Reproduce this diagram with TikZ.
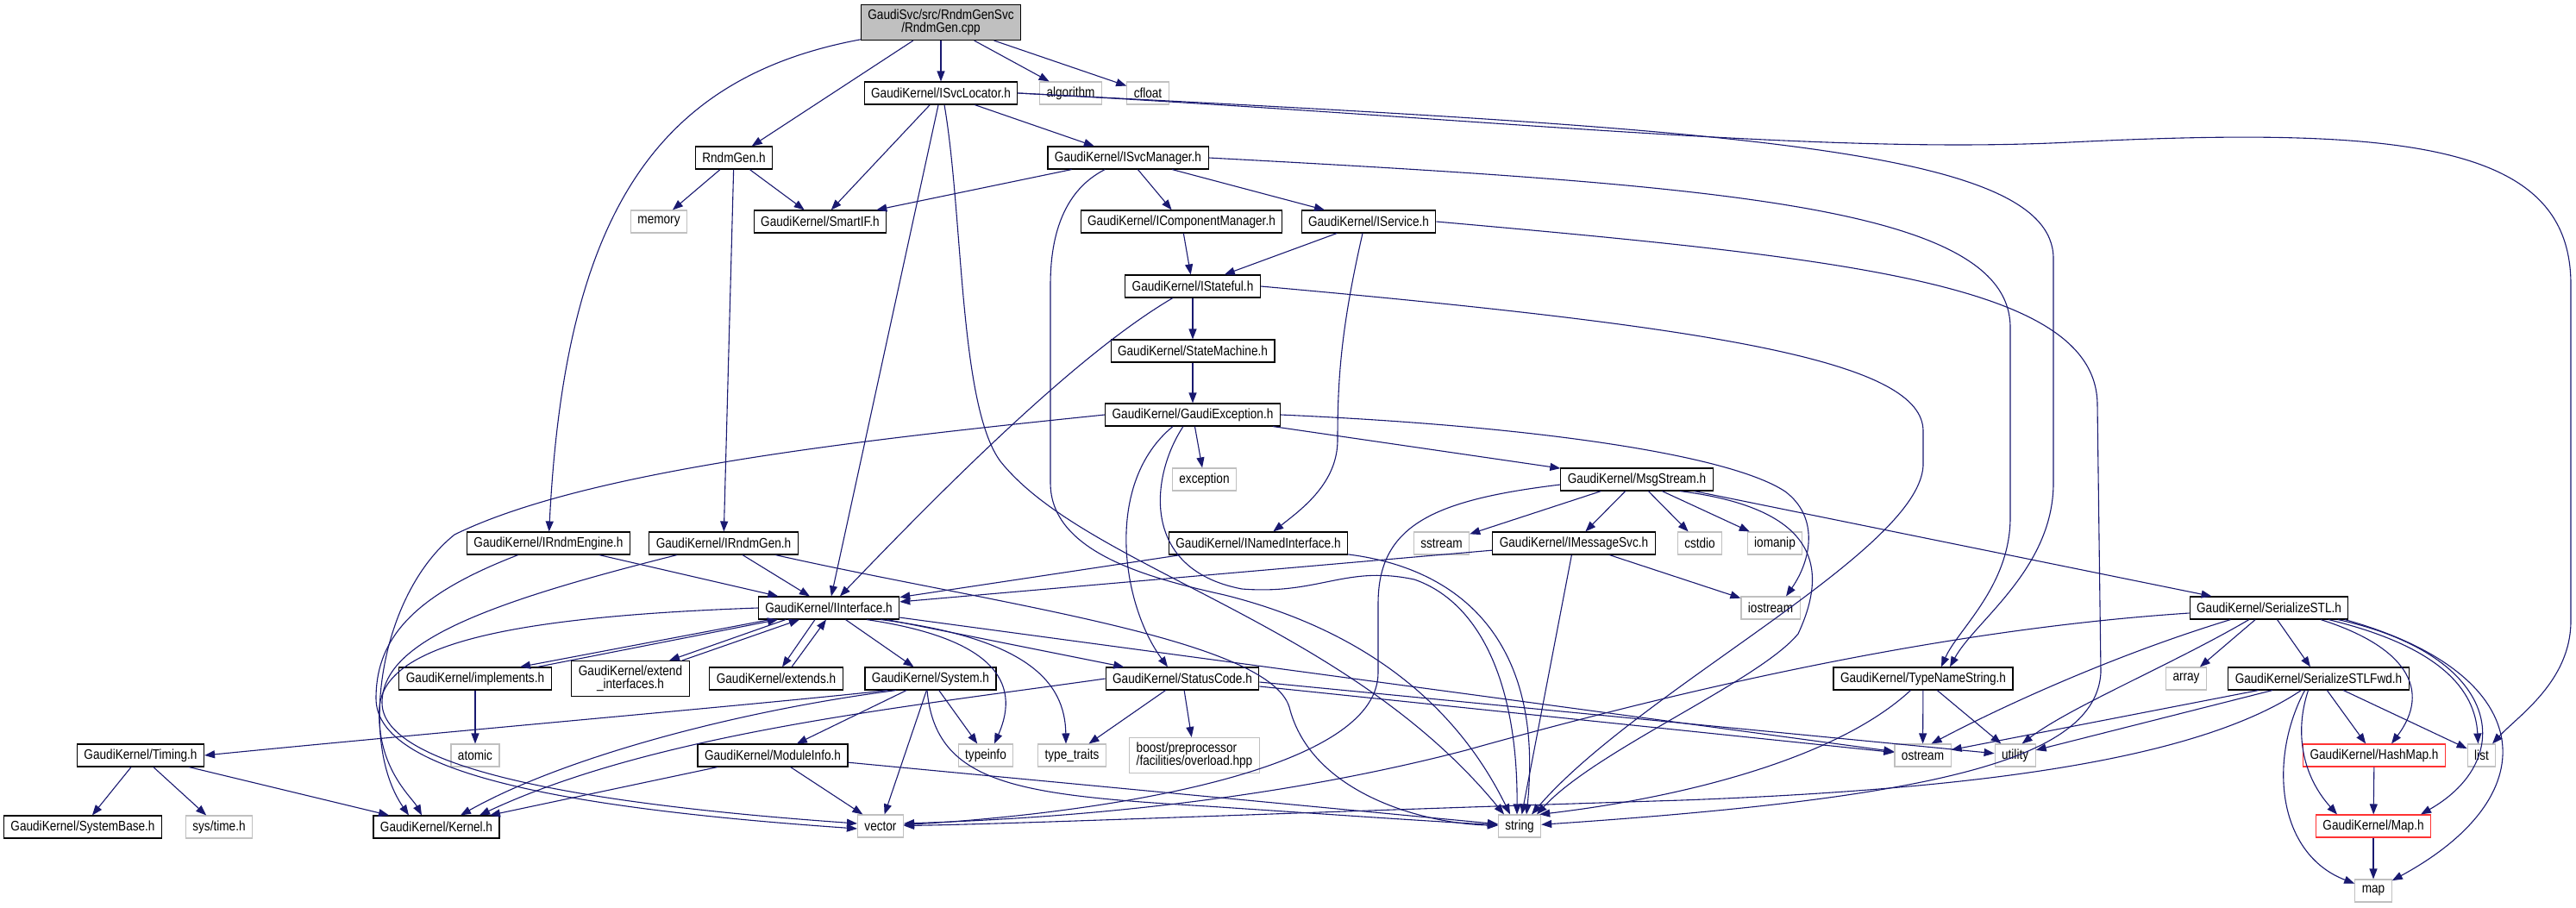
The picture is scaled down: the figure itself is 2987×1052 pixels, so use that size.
\documentclass[tikz,border=0pt]{standalone}
\usepackage{fontspec}
\setmainfont{Liberation Sans}[FakeStretch=0.85]
\usetikzlibrary{arrows.meta}
\definecolor{depblue}{HTML}{191970}
\definecolor{stdgray}{HTML}{C0C0C0}
\definecolor{nodocred}{HTML}{FF3333}
\begin{document}
\begin{tikzpicture}[x=1pt, y=-1pt,
  hfile/.style={draw=black, line width=1.1pt, fill=white, minimum height=26pt,
    inner xsep=8pt, inner ysep=0pt, font=\fontsize{16}{15}\selectfont},
  sfile/.style={hfile, draw=stdgray},
  rfile/.style={hfile, draw=nodocred},
  dep/.style={draw=depblue, line width=1.1pt, -{Triangle[length=12pt,width=9pt]}}]
\useasboundingbox (0,0) rectangle (2987,1052);

% Files
\node[hfile, fill=stdgray, minimum height=41pt, align=center] (cpp) at (1091,26) {GaudiSvc/src/RndmGenSvc\\/RndmGen.cpp};
\node[hfile] (svcloc) at (1091,108) {GaudiKernel/ISvcLocator.h};
\node[sfile] (algo) at (1241.5,108) {algorithm};
\node[sfile] (cfloat) at (1331,108) {cfloat};
\node[hfile] (rndmgen) at (851,183) {RndmGen.h};
\node[hfile] (svcmgr) at (1308,183) {GaudiKernel/ISvcManager.h};
\node[sfile] (memory) at (764,257) {memory};
\node[hfile] (smartif) at (951,257) {GaudiKernel/SmartIF.h};
\node[hfile] (compmgr) at (1370,257) {GaudiKernel/IComponentManager.h};
\node[hfile] (iservice) at (1587,257) {GaudiKernel/IService.h};
\node[hfile] (istateful) at (1383,332) {GaudiKernel/IStateful.h};
\node[hfile] (statemach) at (1383,407) {GaudiKernel/StateMachine.h};
\node[hfile] (gexcept) at (1383,481) {GaudiKernel/GaudiException.h};
\node[sfile] (exception) at (1396.5,556) {exception};
\node[hfile] (msgstream) at (1898,556) {GaudiKernel/MsgStream.h};
\node[hfile] (engine) at (636,630) {GaudiKernel/IRndmEngine.h};
\node[hfile] (irndmgen) at (839,630) {GaudiKernel/IRndmGen.h};
\node[hfile] (named) at (1459,630) {GaudiKernel/INamedInterface.h};
\node[sfile] (sstream) at (1671.5,630) {sstream};
\node[hfile] (msgsvc) at (1825,630) {GaudiKernel/IMessageSvc.h};
\node[sfile] (cstdio) at (1971,630) {cstdio};
\node[sfile] (iomanip) at (2058,630) {iomanip};
\node[hfile] (iface) at (961,705) {GaudiKernel/IInterface.h};
\node[sfile] (iostream) at (2053,705) {iostream};
\node[hfile] (serstl) at (2631,705) {GaudiKernel/SerializeSTL.h};
\node[hfile] (implements) at (551,787) {GaudiKernel/implements.h};
\node[hfile, minimum height=41pt, align=center] (extifaces) at (731,787) {GaudiKernel/extend\\\_interfaces.h};
\node[hfile] (extends) at (900,787) {GaudiKernel/extends.h};
\node[hfile] (system) at (1079,787) {GaudiKernel/System.h};
\node[hfile] (statuscode) at (1371,787) {GaudiKernel/StatusCode.h};
\node[hfile] (typename) at (2230,787) {GaudiKernel/TypeNameString.h};
\node[sfile] (array) at (2535,787) {array};
\node[hfile] (serfwd) at (2688.5,787) {GaudiKernel/SerializeSTLFwd.h};
\node[hfile] (timing) at (163,876) {GaudiKernel/Timing.h};
\node[sfile] (atomic) at (551,876) {atomic};
\node[hfile] (modinfo) at (896,876) {GaudiKernel/ModuleInfo.h};
\node[sfile] (typeinfo) at (1143,876) {typeinfo};
\node[sfile] (typetraits) at (1243,876) {type\_traits};
\node[sfile, minimum height=41pt, align=left] (boost) at (1385,876) {boost/preprocessor\\/facilities/overload.hpp};
\node[sfile] (ostream) at (2229.5,876) {ostream};
\node[sfile] (utility) at (2336.6,876) {utility};
\node[rfile] (hashmap) at (2753,876) {GaudiKernel/HashMap.h};
\node[sfile] (list) at (2877.5,876) {list};
\node[hfile] (sysbase) at (96,959) {GaudiKernel/SystemBase.h};
\node[sfile] (systime) at (254,959) {sys/time.h};
\node[hfile] (kernel) at (506,959) {GaudiKernel/Kernel.h};
\node[sfile] (vector) at (1021,958) {vector};
\node[sfile] (string) at (1762,958) {string};
\node[rfile] (gmap) at (2752,958) {GaudiKernel/Map.h};
\node[sfile] (stdmap) at (2752,1033) {map};

% RndmGen.cpp
\draw[dep] (cpp.192) .. controls (760,90) and (655,250) .. (engine);
\draw[dep] (cpp) -- (rndmgen);
\draw[dep] (cpp) -- (svcloc);
\draw[dep] (cpp) -- (algo);
\draw[dep] (cpp) -- (cfloat);

% ISvcLocator.h
\draw[dep] (svcloc) -- (smartif);
\draw[dep] (svcloc) -- (iface);
\draw[dep] ([xshift=4pt]svcloc.south) .. controls (1117,250) and (1112,470) .. (1160,535) .. controls (1260,660) and (1560,720) .. ([xshift=-18pt]string.north);
\draw[dep] (svcloc) -- (svcmgr);
\draw[dep] (svcloc.east) .. controls (1700,135) and (2100,180) .. (2400,165) .. controls (2800,145) and (2981,170) .. (2981,330) -- (2981,720) .. controls (2981,790) and (2920,830) .. (list);
\draw[dep] (svcloc.east) .. controls (2000,150) and (2381,170) .. (2381,300) -- (2381,560) .. controls (2381,660) and (2290,720) .. ([xshift=31pt]typename.north);

% RndmGen.h
\draw[dep] (rndmgen) -- (memory);
\draw[dep] (rndmgen) -- (smartif);
\draw[dep] (rndmgen) -- (irndmgen);

% ISvcManager.h
\draw[dep] (svcmgr) -- (smartif);
\draw[dep] (svcmgr) .. controls (1235,220) and (1218,270) .. (1218,330) -- (1218,560) .. controls (1218,640) and (1330,670) .. (1420,690) .. controls (1560,725) and (1680,800) .. ([xshift=-11pt]string.north);
\draw[dep] (svcmgr) -- (compmgr);
\draw[dep] (svcmgr) -- (iservice);
\draw[dep] (svcmgr.east) .. controls (2000,215) and (2331,240) .. (2331,380) -- (2331,600) .. controls (2331,680) and (2270,730) .. ([xshift=21pt]typename.north);

% IComponentManager.h, IService.h
\draw[dep] (compmgr) -- (istateful);
\draw[dep] (iservice) -- (istateful);
\draw[dep] ([xshift=-7pt]iservice.south) .. controls (1555,380) and (1551,440) .. (1551,510) .. controls (1551,560) and (1510,590) .. (named);
\draw[dep] (iservice.east) .. controls (2150,300) and (2432,330) .. (2432,470) -- (2436,780) .. controls (2430,880) and (2250,925) .. (string);

% IStateful.h
\draw[dep] (istateful) -- (statemach);
\draw[dep] (istateful) .. controls (1250,410) and (1100,560) .. (iface);
\draw[dep] (istateful.east) .. controls (2000,380) and (2230,420) .. (2230,500) -- (2230,540) .. controls (2225,640) and (1900,800) .. ([xshift=14pt]string.north);

% StateMachine.h
\draw[dep] (statemach) -- (gexcept);

% GaudiException.h
\draw[dep] (gexcept.west) .. controls (1000,510) and (680,545) .. (527,620) .. controls (440,690) and (415,860) .. ([xshift=-32pt]kernel.north);
\draw[dep] ([xshift=-23pt]gexcept.south) .. controls (1280,560) and (1300,700) .. ([xshift=-17pt]statuscode.north);
\draw[dep] ([xshift=-11pt]gexcept.south) .. controls (1335,550) and (1320,660) .. (1440,683) .. controls (1530,690) and (1560,655) .. (1640,672) .. controls (1720,700) and (1760,800) .. ([xshift=-3pt]string.north);
\draw[dep] (gexcept) -- (exception);
\draw[dep] (gexcept) -- (msgstream);
\draw[dep] (gexcept.east) .. controls (1800,495) and (2010,530) .. (2070,570) .. controls (2110,600) and (2100,650) .. ([xshift=18pt]iostream.north);

% MsgStream.h
\draw[dep] ([yshift=-6pt]msgstream.west) .. controls (1660,580) and (1598,610) .. (1598,700) -- (1598,780) .. controls (1598,900) and (1250,945) .. (vector);
\draw[dep] (msgstream) -- (sstream);
\draw[dep] (msgstream) -- (msgsvc);
\draw[dep] (msgstream) -- (cstdio);
\draw[dep] (msgstream) -- (iomanip);
\draw[dep] ([xshift=50pt]msgstream.south) .. controls (2110,590) and (2120,660) .. (2085,735) .. controls (2040,790) and (1850,870) .. ([xshift=20pt]string.north);
\draw[dep] (msgstream) -- (serstl);

% IMessageSvc.h, INamedInterface.h
\draw[dep] (msgsvc) -- (iface);
\draw[dep] (msgsvc) -- (iostream);
\draw[dep] (msgsvc) -- (string);
\draw[dep] (named) -- (iface);
\draw[dep] (named) .. controls (1700,660) and (1790,750) .. ([xshift=8pt]string.north);

% IRndmEngine.h, IRndmGen.h
\draw[dep] (engine) -- (iface);
\draw[dep] (engine) .. controls (480,690) and (436,740) .. (436,810) .. controls (436,890) and (620,935) .. ([yshift=-3pt]vector.west);
\draw[dep] (irndmgen) -- (iface);
\draw[dep] (irndmgen) .. controls (560,700) and (443,745) .. (443,815) .. controls (443,885) and (640,930) .. ([yshift=3pt]vector.west);
\draw[dep] (irndmgen) .. controls (1150,700) and (1470,740) .. (1495,820) .. controls (1520,920) and (1650,955) .. (string);

% IInterface.h
\draw[dep] ([xshift=-68pt]iface.south) -- ([xshift=52pt]implements.north);
\draw[dep] ([xshift=72pt]implements.north) -- ([xshift=-59pt]iface.south);
\draw[dep] ([xshift=-50pt]iface.south) -- ([xshift=45pt]extifaces.north);
\draw[dep] ([xshift=60pt]extifaces.north) -- ([xshift=-34pt]iface.south);
\draw[dep] ([xshift=-16pt]iface.south) -- ([xshift=7pt]extends.north);
\draw[dep] ([xshift=18pt]extends.north) -- ([xshift=-3pt]iface.south);
\draw[dep] (iface) -- (system);
\draw[dep] (iface) -- (statuscode);
\draw[dep] ([xshift=44pt]iface.south) .. controls (1150,740) and (1185,790) .. ([xshift=10pt]typeinfo.north);
\draw[dep] ([xshift=60pt]iface.south) .. controls (1190,740) and (1235,790) .. ([xshift=-7pt]typetraits.north);
\draw[dep] (iface) -- (ostream);
\draw[dep] (iface.west) .. controls (600,715) and (446,745) .. (440,820) .. controls (436,890) and (478,925) .. ([xshift=-17pt]kernel.north);
\draw[dep] (implements) -- (atomic);

% System.h
\draw[dep] ([xshift=-50pt]system.south) .. controls (900,815) and (500,850) .. (timing.east);
\draw[dep] ([xshift=-40pt]system.south) .. controls (850,825) and (650,880) .. ([xshift=28pt]kernel.north);
\draw[dep] (system) -- (modinfo);
\draw[dep] (system) -- (vector);
\draw[dep] (system) -- (typeinfo);
\draw[dep] ([xshift=-4pt]system.south) .. controls (1085,910) and (1180,922) .. (1400,935) .. controls (1550,945) and (1650,952) .. (string);

% StatusCode.h
\draw[dep] (statuscode.west) .. controls (1050,820) and (760,850) .. ([xshift=50pt]kernel.north);
\draw[dep] (statuscode) -- (typetraits);
\draw[dep] (statuscode) -- (boost);
\draw[dep] ([yshift=-9pt]statuscode.east) -- (ostream);
\draw[dep] ([yshift=-4pt]statuscode.east) -- (utility);

% ModuleInfo.h, Timing.h
\draw[dep] (modinfo) -- ([xshift=62pt]kernel.north);
\draw[dep] (modinfo) -- (vector);
\draw[dep] (modinfo) -- (string);
\draw[dep] (timing) -- (sysbase);
\draw[dep] (timing) -- (systime);
\draw[dep] (timing) -- ([xshift=-55pt]kernel.north);

% TypeNameString.h
\draw[dep] (typename) -- (ostream);
\draw[dep] (typename) -- (utility);
\draw[dep] (typename) .. controls (2130,880) and (1950,925) .. ([xshift=-2pt]string.north east);

% SerializeSTL.h
\draw[dep] ([yshift=-6pt]serstl.west) .. controls (2250,730) and (1950,800) .. (1700,870) .. controls (1450,935) and (1200,950) .. ([yshift=3pt]vector.east);
\draw[dep] (serstl) .. controls (2450,760) and (2320,820) .. ([xshift=10pt]ostream.north);
\draw[dep] (serstl) .. controls (2520,770) and (2400,820) .. ([xshift=8pt]utility.north);
\draw[dep] (serstl) -- (array);
\draw[dep] (serstl) -- (serfwd);
\draw[dep] ([xshift=60pt]serstl.south) .. controls (2790,750) and (2820,800) .. ([xshift=20pt]hashmap.north);
\draw[dep] ([xshift=69pt]serstl.south) .. controls (2830,750) and (2870,800) .. ([xshift=-4pt]list.north);
\draw[dep] ([xshift=80pt]serstl.south) .. controls (2900,760) and (2920,880) .. ([xshift=55pt]gmap.north);
\draw[dep] ([xshift=88pt]serstl.south) .. controls (2940,780) and (2960,920) .. (stdmap);

% SerializeSTLFwd.h
\draw[dep] (serfwd) -- (ostream);
\draw[dep] (serfwd) -- (utility);
\draw[dep] (serfwd) .. controls (2550,880) and (2300,915) .. (1950,928) .. controls (1500,942) and (1200,955) .. (vector);
\draw[dep] ([xshift=-12pt]serfwd.south) .. controls (2660,850) and (2670,900) .. ([xshift=-42pt]gmap.north);
\draw[dep] ([xshift=-16pt]serfwd.south) .. controls (2630,880) and (2640,990) .. (stdmap);
\draw[dep] (serfwd) -- (hashmap);
\draw[dep] (serfwd) -- (list);

% HashMap.h, Map.h
\draw[dep] (hashmap) -- (gmap);
\draw[dep] (gmap) -- (stdmap);
\end{tikzpicture}
\end{document}
